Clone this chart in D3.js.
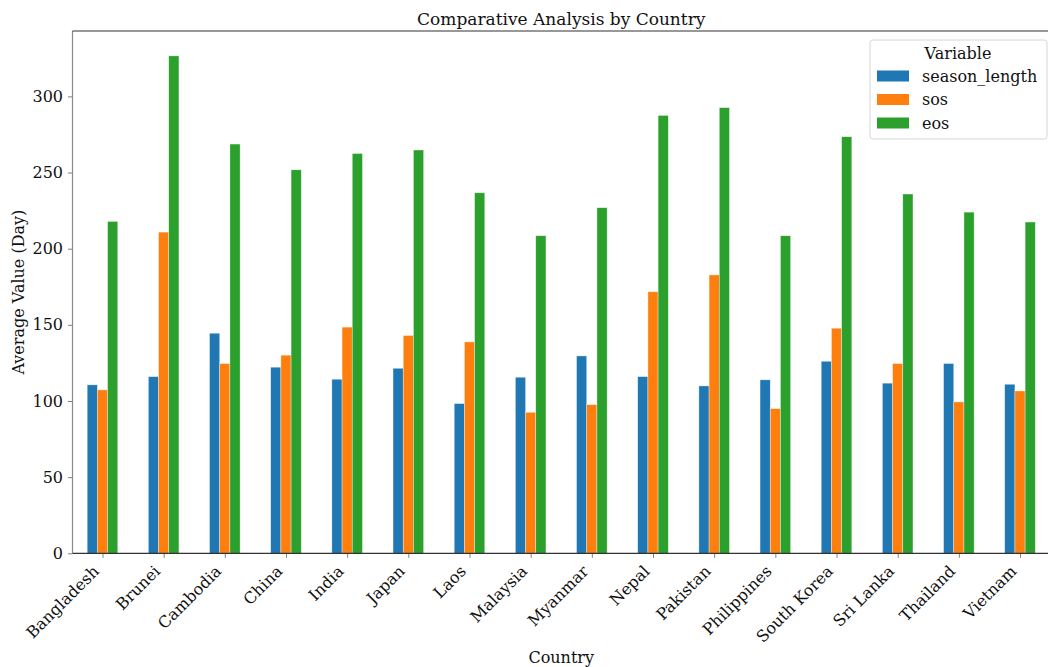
<!DOCTYPE html>
<html>
<head>
<meta charset="utf-8">
<script src="https://cdn.jsdelivr.net/npm/d3@7"></script>
<style>
  html, body { margin: 0; padding: 0; background: #ffffff; }
  svg { display: block; }
  svg text { font-family: "DejaVu Serif", serif; fill: #111; }
</style>
</head>
<body>
<svg id="chart" width="1048" height="667"></svg>
<script>
// Average phenology metrics per country (days)
const countries = ["Bangladesh", "Brunei", "Cambodia", "China", "India", "Japan", "Laos", "Malaysia",
  "Myanmar", "Nepal", "Pakistan", "Philippines", "South Korea", "Sri Lanka", "Thailand", "Vietnam"];
const seasonLength = [110.6, 116.0, 144.5, 122.2, 114.3, 121.5, 98.3, 115.6,
  129.6, 116.0, 109.9, 113.9, 126.1, 111.7, 124.6, 111.0];
const sos = [107.3, 210.9, 124.6, 130.1, 148.5, 143.0, 138.8, 92.6,
  97.6, 171.7, 182.8, 95.0, 147.8, 124.6, 99.4, 106.6];
const eos = [217.9, 326.6, 268.7, 251.8, 262.5, 264.8, 236.7, 208.5,
  226.9, 287.5, 292.6, 208.5, 273.5, 235.9, 224.0, 217.5];
const seriesNames = ["season_length", "sos", "eos"];
const seriesColors = ["#1f77b4", "#ff7f0e", "#2ca02c"];
const yTicks = [0, 50, 100, 150, 200, 250, 300];

const series = [seasonLength, sos, eos];
const serif = "'DejaVu Serif', serif";

const svg = d3.select("#chart");
const plot = { left: 72.5, right: 1050, top: 31, bottom: 553.3 };

const yMax = d3.max(series.flat()) * 1.05;
const x = d3.scaleLinear().domain([-0.49, countries.length - 1 + 0.49]).range([plot.left, plot.right]);
const y = d3.scaleLinear().domain([0, yMax]).range([plot.bottom, plot.top]);

const groupWidth = 0.5;
const barW = groupWidth / series.length;

// Bars: one group per country, three side-by-side series
series.forEach((vals, si) => {
  svg.append("g")
    .selectAll("rect")
    .data(vals)
    .join("rect")
    .attr("x", (d, i) => x(i - groupWidth / 2 + si * barW))
    .attr("width", x(barW) - x(0))
    .attr("y", d => y(d))
    .attr("height", d => y(0) - y(d))
    .attr("fill", seriesColors[si])
    .attr("stroke", "rgba(255,255,255,0.6)")
    .attr("stroke-width", 0.6);
});

// Y axis
const yAxis = svg.append("g")
  .attr("transform", `translate(${plot.left},0)`)
  .call(d3.axisLeft(y).tickValues(yTicks).tickSize(4.5).tickPadding(5).tickFormat(d3.format("d")));
yAxis.select(".domain").remove();
yAxis.selectAll(".tick line").attr("stroke", "#7f7f7f").attr("stroke-width", 1);
yAxis.selectAll(".tick text")
  .style("font-family", serif)
  .style("font-size", "16px");

// X axis
const xAxis = svg.append("g")
  .attr("transform", `translate(0,${plot.bottom})`)
  .call(d3.axisBottom(x).tickValues(d3.range(countries.length)).tickSize(4.5).tickFormat(i => countries[i]));
xAxis.select(".domain").remove();
xAxis.selectAll(".tick line").attr("stroke", "#7f7f7f").attr("stroke-width", 1);
xAxis.selectAll(".tick text")
  .style("font-family", serif)
  .style("font-size", "16px")
  .attr("text-anchor", "end")
  .attr("dy", null)
  .attr("y", null)
  .attr("transform", "translate(-3,19) rotate(-45)");

// Spines
svg.append("line").attr("x1", plot.left).attr("x2", plot.left)
  .attr("y1", plot.top).attr("y2", plot.bottom)
  .attr("stroke", "#8a8a8a").attr("stroke-width", 1.2);
svg.append("line").attr("x1", plot.left).attr("x2", plot.right)
  .attr("y1", plot.top).attr("y2", plot.top)
  .attr("stroke", "#333").attr("stroke-width", 1.2);
svg.append("line").attr("x1", plot.left).attr("x2", plot.right)
  .attr("y1", plot.bottom).attr("y2", plot.bottom)
  .attr("stroke", "#333").attr("stroke-width", 1.2);

// Title and axis labels
const titleX = (plot.left + plot.right) / 2;
svg.append("text")
  .attr("x", titleX).attr("y", 25)
  .attr("text-anchor", "middle")
  .style("font-family", serif)
  .style("font-size", "17px")
  .text("Comparative Analysis by Country");

svg.append("text")
  .attr("x", titleX).attr("y", 663)
  .attr("text-anchor", "middle")
  .style("font-family", serif)
  .style("font-size", "16px")
  .text("Country");

svg.append("text")
  .attr("transform", `translate(24,${(plot.top + plot.bottom) / 2}) rotate(-90)`)
  .attr("text-anchor", "middle")
  .style("font-family", serif)
  .style("font-size", "16px")
  .text("Average Value (Day)");

// Legend
const legend = svg.append("g").attr("transform", "translate(870,40)");
legend.append("rect")
  .attr("width", 177).attr("height", 99)
  .attr("rx", 3).attr("ry", 3)
  .attr("fill", "rgba(255,255,255,0.85)")
  .attr("stroke", "#d6d6d6").attr("stroke-width", 1);
legend.append("text")
  .attr("x", 88).attr("y", 19)
  .attr("text-anchor", "middle")
  .style("font-family", serif)
  .style("font-size", "16px")
  .text("Variable");
seriesNames.forEach((name, i) => {
  const row = legend.append("g").attr("transform", `translate(0,${36 + i * 23.5})`);
  row.append("rect").attr("x", 7).attr("y", -5.5).attr("width", 32).attr("height", 11)
    .attr("fill", seriesColors[i]);
  row.append("text").attr("x", 52).attr("y", 5.5)
    .style("font-family", serif)
    .style("font-size", "16px")
    .text(name);
});
</script>
</body>
</html>
